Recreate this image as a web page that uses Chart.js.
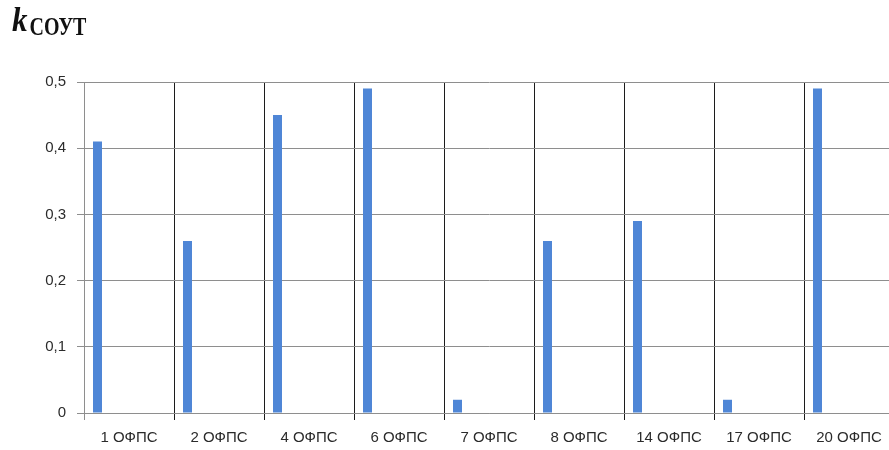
<!DOCTYPE html>
<html>
<head>
<meta charset="utf-8">
<title>kСОУТ по ОФПС</title>
<script src="https://cdn.jsdelivr.net/npm/chart.js@4/dist/chart.umd.min.js"></script>
<style>
  html, body { margin: 0; padding: 0; background: #ffffff; overflow: hidden; }
  #wrap { position: relative; width: 894px; height: 450px; }
</style>
</head>
<body>
<div id="wrap"><canvas id="chart" width="894" height="450"></canvas></div>
<script>
// Subdivisions (ОФПС) along the horizontal axis
const categories = ['1 ОФПС', '2 ОФПС', '4 ОФПС', '6 ОФПС', '7 ОФПС', '8 ОФПС', '14 ОФПС', '17 ОФПС', '20 ОФПС'];
// Coefficient k_СОУТ for each subdivision
const kSout = [0.41, 0.26, 0.45, 0.49, 0.02, 0.26, 0.29, 0.02, 0.49];
// Value axis ticks
const yTicks = [0, 0.1, 0.2, 0.3, 0.4, 0.5];
// The remaining series of the cluster carry no values; they keep the
// k_СОУТ bar in the first slot of each group.
const emptySeriesCount = 7;

const GRID_GRAY = '#8e8e8e';
const CAT_LINE = '#1c1c1c';
const BAR_BLUE = '#4f86d6';
const TEXT = '#2b2b2b';
const FONT = '"Liberation Sans", Arial, sans-serif';

const datasets = [{
  label: 'kСОУТ',
  data: kSout,
  backgroundColor: BAR_BLUE,
  borderWidth: 0
}];
for (let i = 0; i < emptySeriesCount; i++) {
  datasets.push({ label: '', data: [], backgroundColor: BAR_BLUE });
}

// Heading "k" with subscript "СОУТ"
const headingPlugin = {
  id: 'heading',
  afterDraw(chart) {
    const ctx = chart.ctx;
    ctx.save();
    ctx.fillStyle = '#111111';
    ctx.textBaseline = 'alphabetic';
    ctx.textAlign = 'left';
    ctx.font = 'italic bold 31px "Liberation Serif", "DejaVu Serif", serif';
    const kw = ctx.measureText('k').width;
    ctx.save();
    ctx.translate(12, 31);
    ctx.scale(1, 1.1);
    ctx.fillText('k', 0, 0);
    ctx.restore();
    ctx.font = 'bold 20px "Liberation Serif", "DejaVu Serif", serif';
    ctx.save();
    ctx.translate(12 + kw + 2, 35);
    ctx.scale(1, 1.3);
    ctx.fillText('СОУТ', 0, 0);
    ctx.restore();
    ctx.restore();
  }
};

new Chart(document.getElementById('chart'), {
  type: 'bar',
  data: { labels: categories, datasets: datasets },
  options: {
    responsive: false,
    animation: false,
    events: [],
    layout: { padding: { top: 82, left: 0, right: 0, bottom: 0 } },
    plugins: {
      legend: { display: false },
      tooltip: { enabled: false },
      title: { display: false }
    },
    datasets: {
      bar: { categoryPercentage: 0.8, barPercentage: 1.0 }
    },
    scales: {
      x: {
        grid: {
          offset: true,
          drawOnChartArea: true,
          tickLength: 7,
          lineWidth: 1,
          color: (ctx) => (ctx.index === 0 ? GRID_GRAY : CAT_LINE)
        },
        border: { display: true, color: GRID_GRAY, width: 1 },
        ticks: {
          color: TEXT,
          font: { family: FONT, size: 15 },
          padding: 9,
          maxRotation: 0,
          autoSkip: false
        },
        afterFit(scale) { scale.height = 37; }
      },
      y: {
        min: 0,
        max: 0.5,
        grid: { color: GRID_GRAY, tickLength: 7, lineWidth: 1 },
        border: { display: true, color: GRID_GRAY, width: 1 },
        afterBuildTicks(scale) {
          scale.ticks = yTicks.map(v => ({ value: v }));
        },
        ticks: {
          color: TEXT,
          font: { family: FONT, size: 15 },
          padding: 11,
          callback: (v) => (v === 0 ? '0' : Number(v).toFixed(1).replace('.', ','))
        },
        afterFit(scale) { scale.width = 84; }
      }
    }
  },
  plugins: [headingPlugin]
});
</script>
</body>
</html>
